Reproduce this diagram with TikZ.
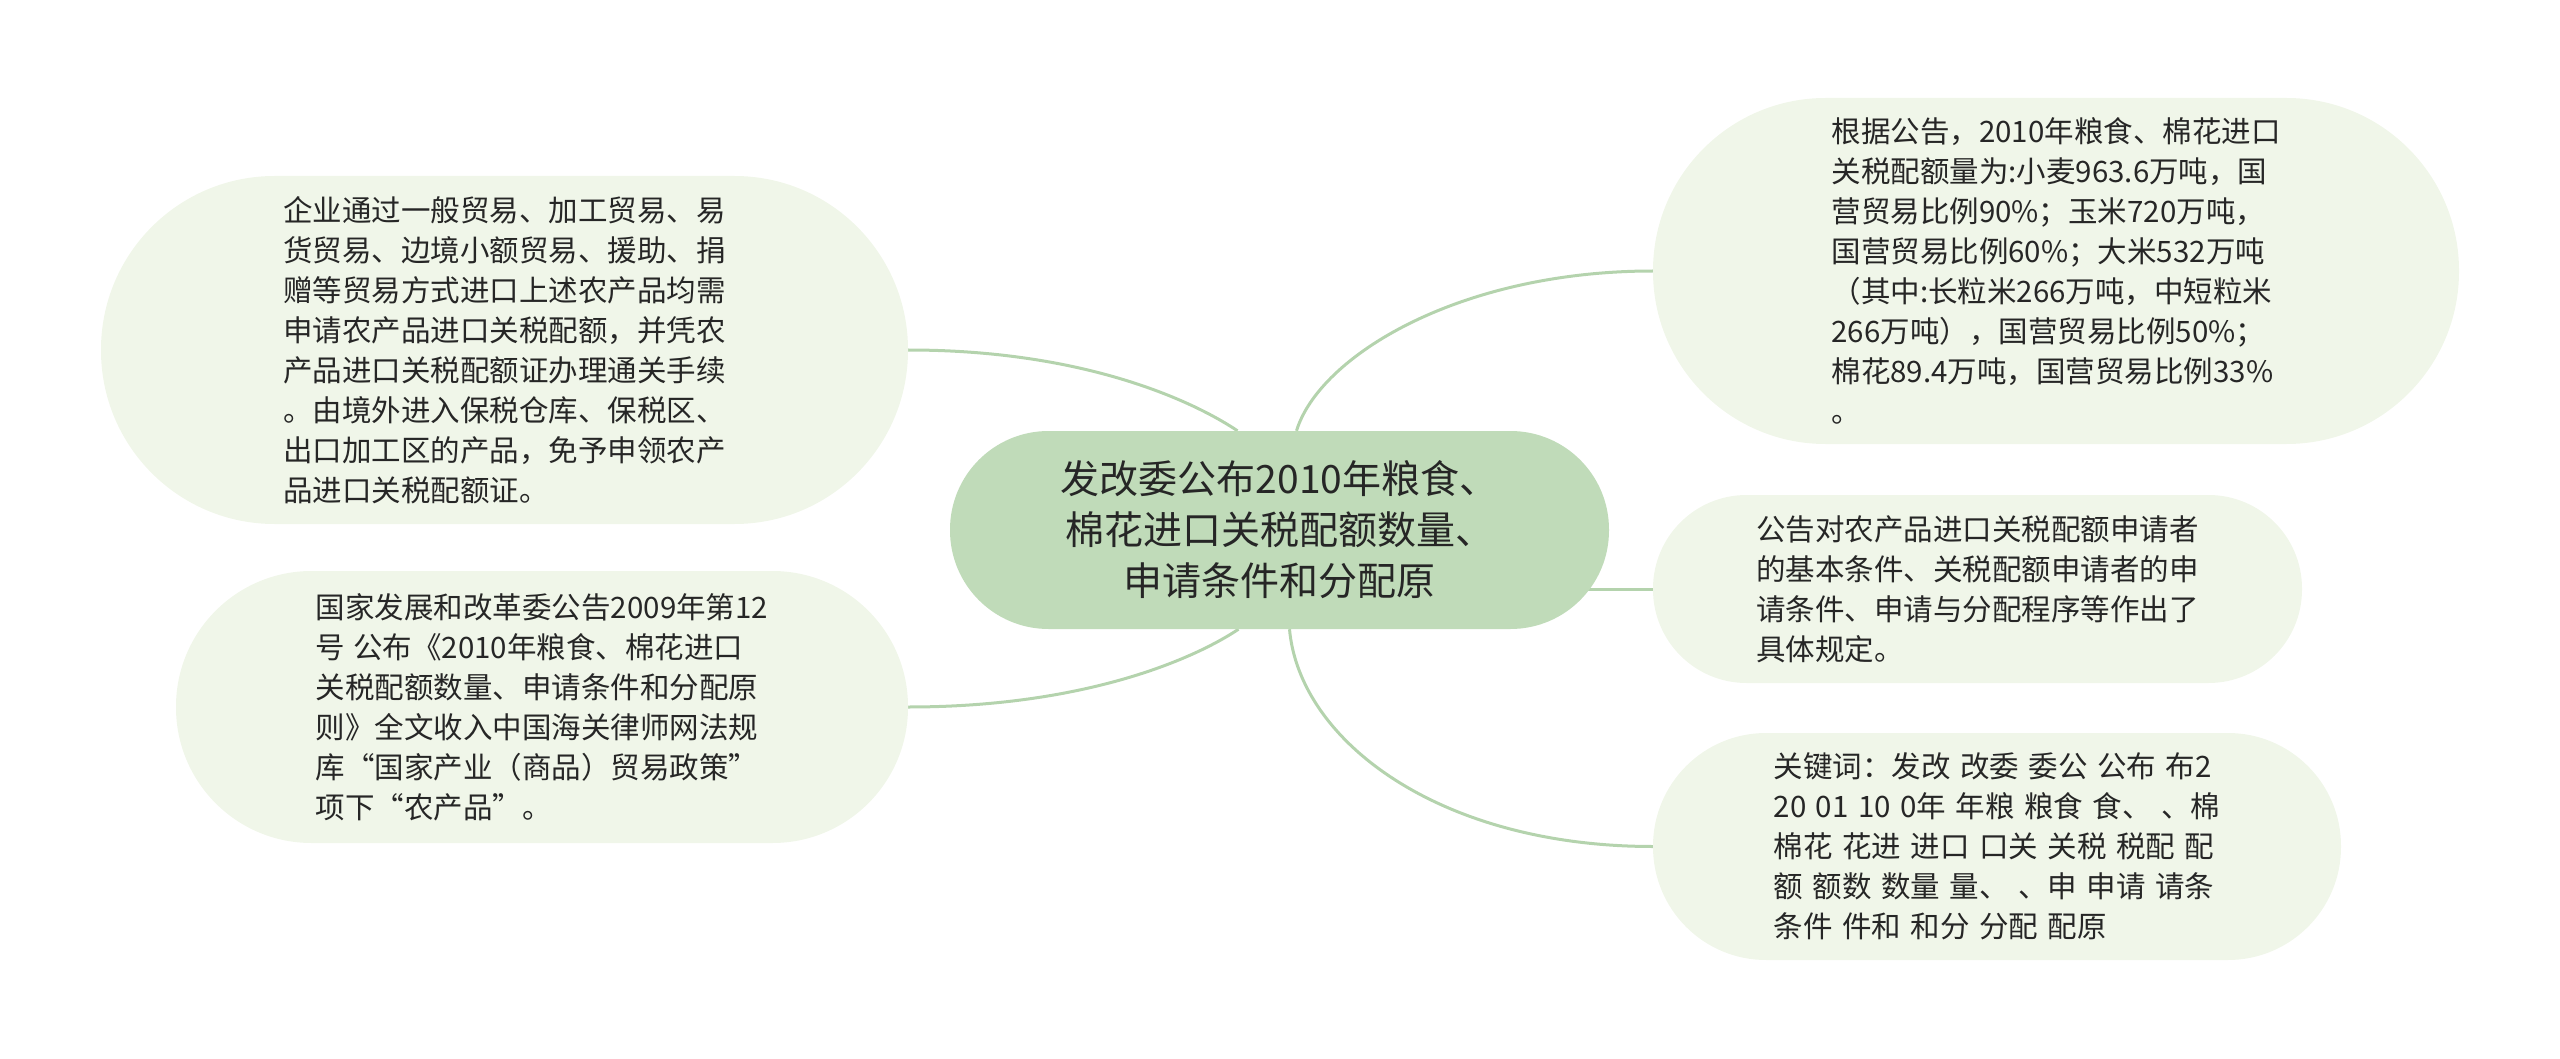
\documentclass[tikz,border=0pt]{standalone}
\usepackage{fontspec}
\newfontfamily\cjk{Noto Sans CJK SC}
\newfontfamily\cjkwide[WordSpace=1.2]{Noto Sans CJK SC}
\usetikzlibrary{backgrounds}
\definecolor{hubfill}{HTML}{C0DBB9}
\definecolor{leaffill}{HTML}{F0F6E9}
\definecolor{linkgreen}{HTML}{B4D3AD}
\definecolor{inkgray}{HTML}{262626}
\tikzset{
  leaf/.style={fill=leaffill, text=inkgray, align=left, inner sep=0pt,
    font=\cjk\fontsize{29.5}{40}\selectfont},
  hub/.style={fill=hubfill, text=inkgray, align=center, inner sep=0pt,
    minimum width=659pt, minimum height=198pt, rounded corners=98.5pt,
    font=\cjk\fontsize{39}{51}\selectfont},
  link/.style={draw=linkgreen, line width=3pt}
}
\begin{document}
\begin{tikzpicture}[x=1pt, y=-1pt]
\useasboundingbox (0,0) rectangle (2560,1059);
\node[hub] (hub) at (1279.5,530) {发改委公布2010年粮食、\\棉花进口关税配额数量、\\申请条件和分配原};
\node[leaf, minimum width=807pt, minimum height=348pt, rounded corners=173.5pt] (trade) at (504.5,350)
  {企业通过一般贸易、加工贸易、易\\货贸易、边境小额贸易、援助、捐\\赠等贸易方式进口上述农产品均需\\申请农产品进口关税配额，并凭农\\产品进口关税配额证办理通关手续\\。由境外进入保税仓库、保税区、\\出口加工区的产品，免予申领农产\\品进口关税配额证。};
\node[leaf, minimum width=732pt, minimum height=272pt, rounded corners=135.5pt] (source) at (542,707)
  {国家发展和改革委公告2009年第12\\号 公布《2010年粮食、棉花进口\\关税配额数量、申请条件和分配原\\则》全文收入中国海关律师网法规\\库“国家产业（商品）贸易政策”\\项下“农产品”。};
\node[leaf, minimum width=806pt, minimum height=346pt, rounded corners=172.5pt] (quota) at (2056,271)
  {根据公告，2010年粮食、棉花进口\\关税配额量为:小麦963.6万吨，国\\营贸易比例90\%；玉米720万吨，\\国营贸易比例60\%；大米532万吨\\（其中:长粒米266万吨，中短粒米\\266万吨），国营贸易比例50\%；\\棉花89.4万吨，国营贸易比例33\%\\。};
\node[leaf, minimum width=649pt, minimum height=188pt, rounded corners=93.5pt] (rules) at (1977.5,589)
  {公告对农产品进口关税配额申请者\\的基本条件、关税配额申请者的申\\请条件、申请与分配程序等作出了\\具体规定。};
\node[leaf, font=\cjkwide\fontsize{29.5}{40}\selectfont, minimum width=688pt, minimum height=227pt, rounded corners=113pt] (keys) at (1997,846.5)
  {关键词：发改 改委 委公 公布 布2\\20 01 10 0年 年粮 粮食 食、 、棉\\棉花 花进 进口 口关 关税 税配 配\\额 额数 数量 量、 、申 申请 请条\\条件 件和 和分 分配 配原};
\begin{scope}[on background layer]
\draw[link] (trade.east) .. controls +(172,0) and +(-48,-32) .. ([xshift=-42pt]hub.north);
\draw[link] (source.east) .. controls +(172,0) and +(-48,32) .. ([xshift=-41pt]hub.south);
\draw[link] (quota.west) .. controls +(-193,0) and +(23,-75) .. ([xshift=17pt]hub.north);
\draw[link] (rules.west) -- (rules.west -| hub.center);
\draw[link] (keys.west) .. controls +(-213,0) and +(10,112) .. ([xshift=10pt]hub.south);
\end{scope}
\end{tikzpicture}
\end{document}
